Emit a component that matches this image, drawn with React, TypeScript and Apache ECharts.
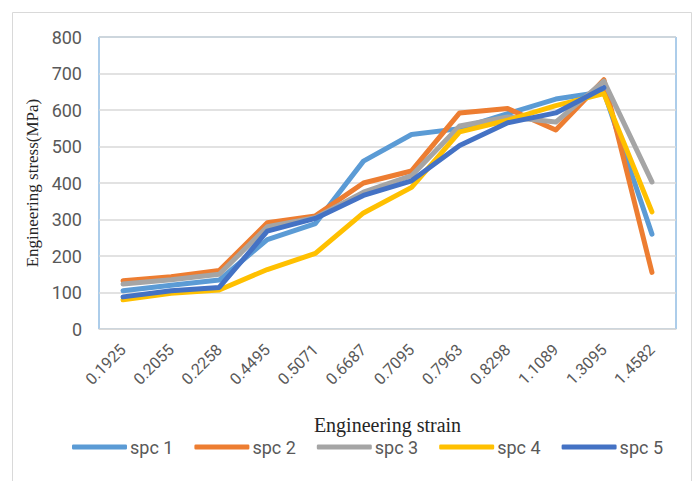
import React, { useEffect, useRef } from "react";
import * as echarts from "echarts";

const categories = ["0.1925", "0.2055", "0.2258", "0.4495", "0.5071", "0.6687", "0.7095", "0.7963", "0.8298", "1.1089", "1.3095", "1.4582"];
const spc1 = [105, 120, 134, 245, 289, 460, 533, 549, 590, 630, 650, 260];
const spc2 = [132, 143, 160, 291, 310, 400, 433, 592, 604, 545, 683, 155];
const spc3 = [123, 135, 150, 280, 305, 375, 420, 556, 581, 567, 679, 403];
const spc4 = [80, 98, 107, 163, 207, 318, 388, 540, 572, 612, 645, 321];
const spc5 = [88, 105, 114, 268, 303, 366, 406, 503, 565, 592, 661];
const seriesNames = ["spc 1", "spc 2", "spc 3", "spc 4", "spc 5"];
const seriesData = [spc1, spc2, spc3, spc4, spc5];
const colors = ["#5B9BD5", "#ED7D31", "#A5A5A5", "#FFC000", "#4472C4"];
const yTicks = [0, 100, 200, 300, 400, 500, 600, 700, 800];

export default function App() {
  const ref = useRef<HTMLDivElement>(null);
  useEffect(() => {
    const chart = echarts.init(ref.current!, null, { renderer: "svg" });
    chart.setOption({
      animation: false,
      color: colors,
      graphic: [
        {
          type: "rect",
          shape: { x: 12.5, y: 12.5, width: 679, height: 480 },
          style: { fill: "none", stroke: "#D9D9D9", lineWidth: 1 },
          silent: true,
        },
      ],
      grid: {
        left: 99,
        right: 18,
        top: 37,
        bottom: 152,
        show: true,
        borderColor: "#5B9BD5",
        borderWidth: 1,
        backgroundColor: "transparent",
      },
      legend: {
        left: 67,
        top: 433,
        icon: "roundRect",
        itemWidth: 55,
        itemHeight: 5,
        itemGap: 21,
        textStyle: { fontFamily: "Roboto", fontSize: 18, color: "#595959", padding: [0, 0, 0, -2] },
        data: seriesNames,
      },
      xAxis: {
        type: "category",
        data: categories,
        boundaryGap: true,
        name: "Engineering strain",
        nameLocation: "middle",
        nameGap: 86,
        nameTextStyle: { fontFamily: "Liberation Serif", fontSize: 20, color: "#262626" },
        axisLine: { show: true, lineStyle: { color: "#D9D9D9", width: 1 } },
        axisTick: { show: false },
        axisLabel: {
          rotate: 45,
          interval: 0,
          margin: 18,
          fontFamily: "Roboto",
          fontSize: 16,
          color: "#595959",
        },
      },
      yAxis: {
        type: "value",
        min: 0,
        max: 800,
        interval: 100,
        name: "Engineering stress(MPa)",
        nameLocation: "middle",
        nameGap: 57,
        nameRotate: 90,
        nameTextStyle: { fontFamily: "Liberation Serif", fontSize: 17, color: "#262626" },
        axisLine: { show: false },
        axisTick: { show: false },
        axisLabel: {
          margin: 17,
          fontFamily: "Roboto",
          fontSize: 18,
          color: "#595959",
          formatter: (v: number) => (yTicks.includes(v) ? String(v) : ""),
        },
        splitLine: { show: true, lineStyle: { color: "#D9D9D9", width: 1.5 } },
      },
      series: seriesNames.map((name, i) => ({
        name,
        type: "line",
        data: seriesData[i],
        symbol: "none",
        lineStyle: { width: 5, color: colors[i], cap: "round", join: "round" },
        itemStyle: { color: colors[i] },
        z: 2 + i,
      })),
    });
    return () => chart.dispose();
  }, []);
  return (
    <div
      ref={ref}
      style={{ position: "fixed", left: 0, top: 0, width: 694, height: 481, background: "#fff" }}
    />
  );
}
